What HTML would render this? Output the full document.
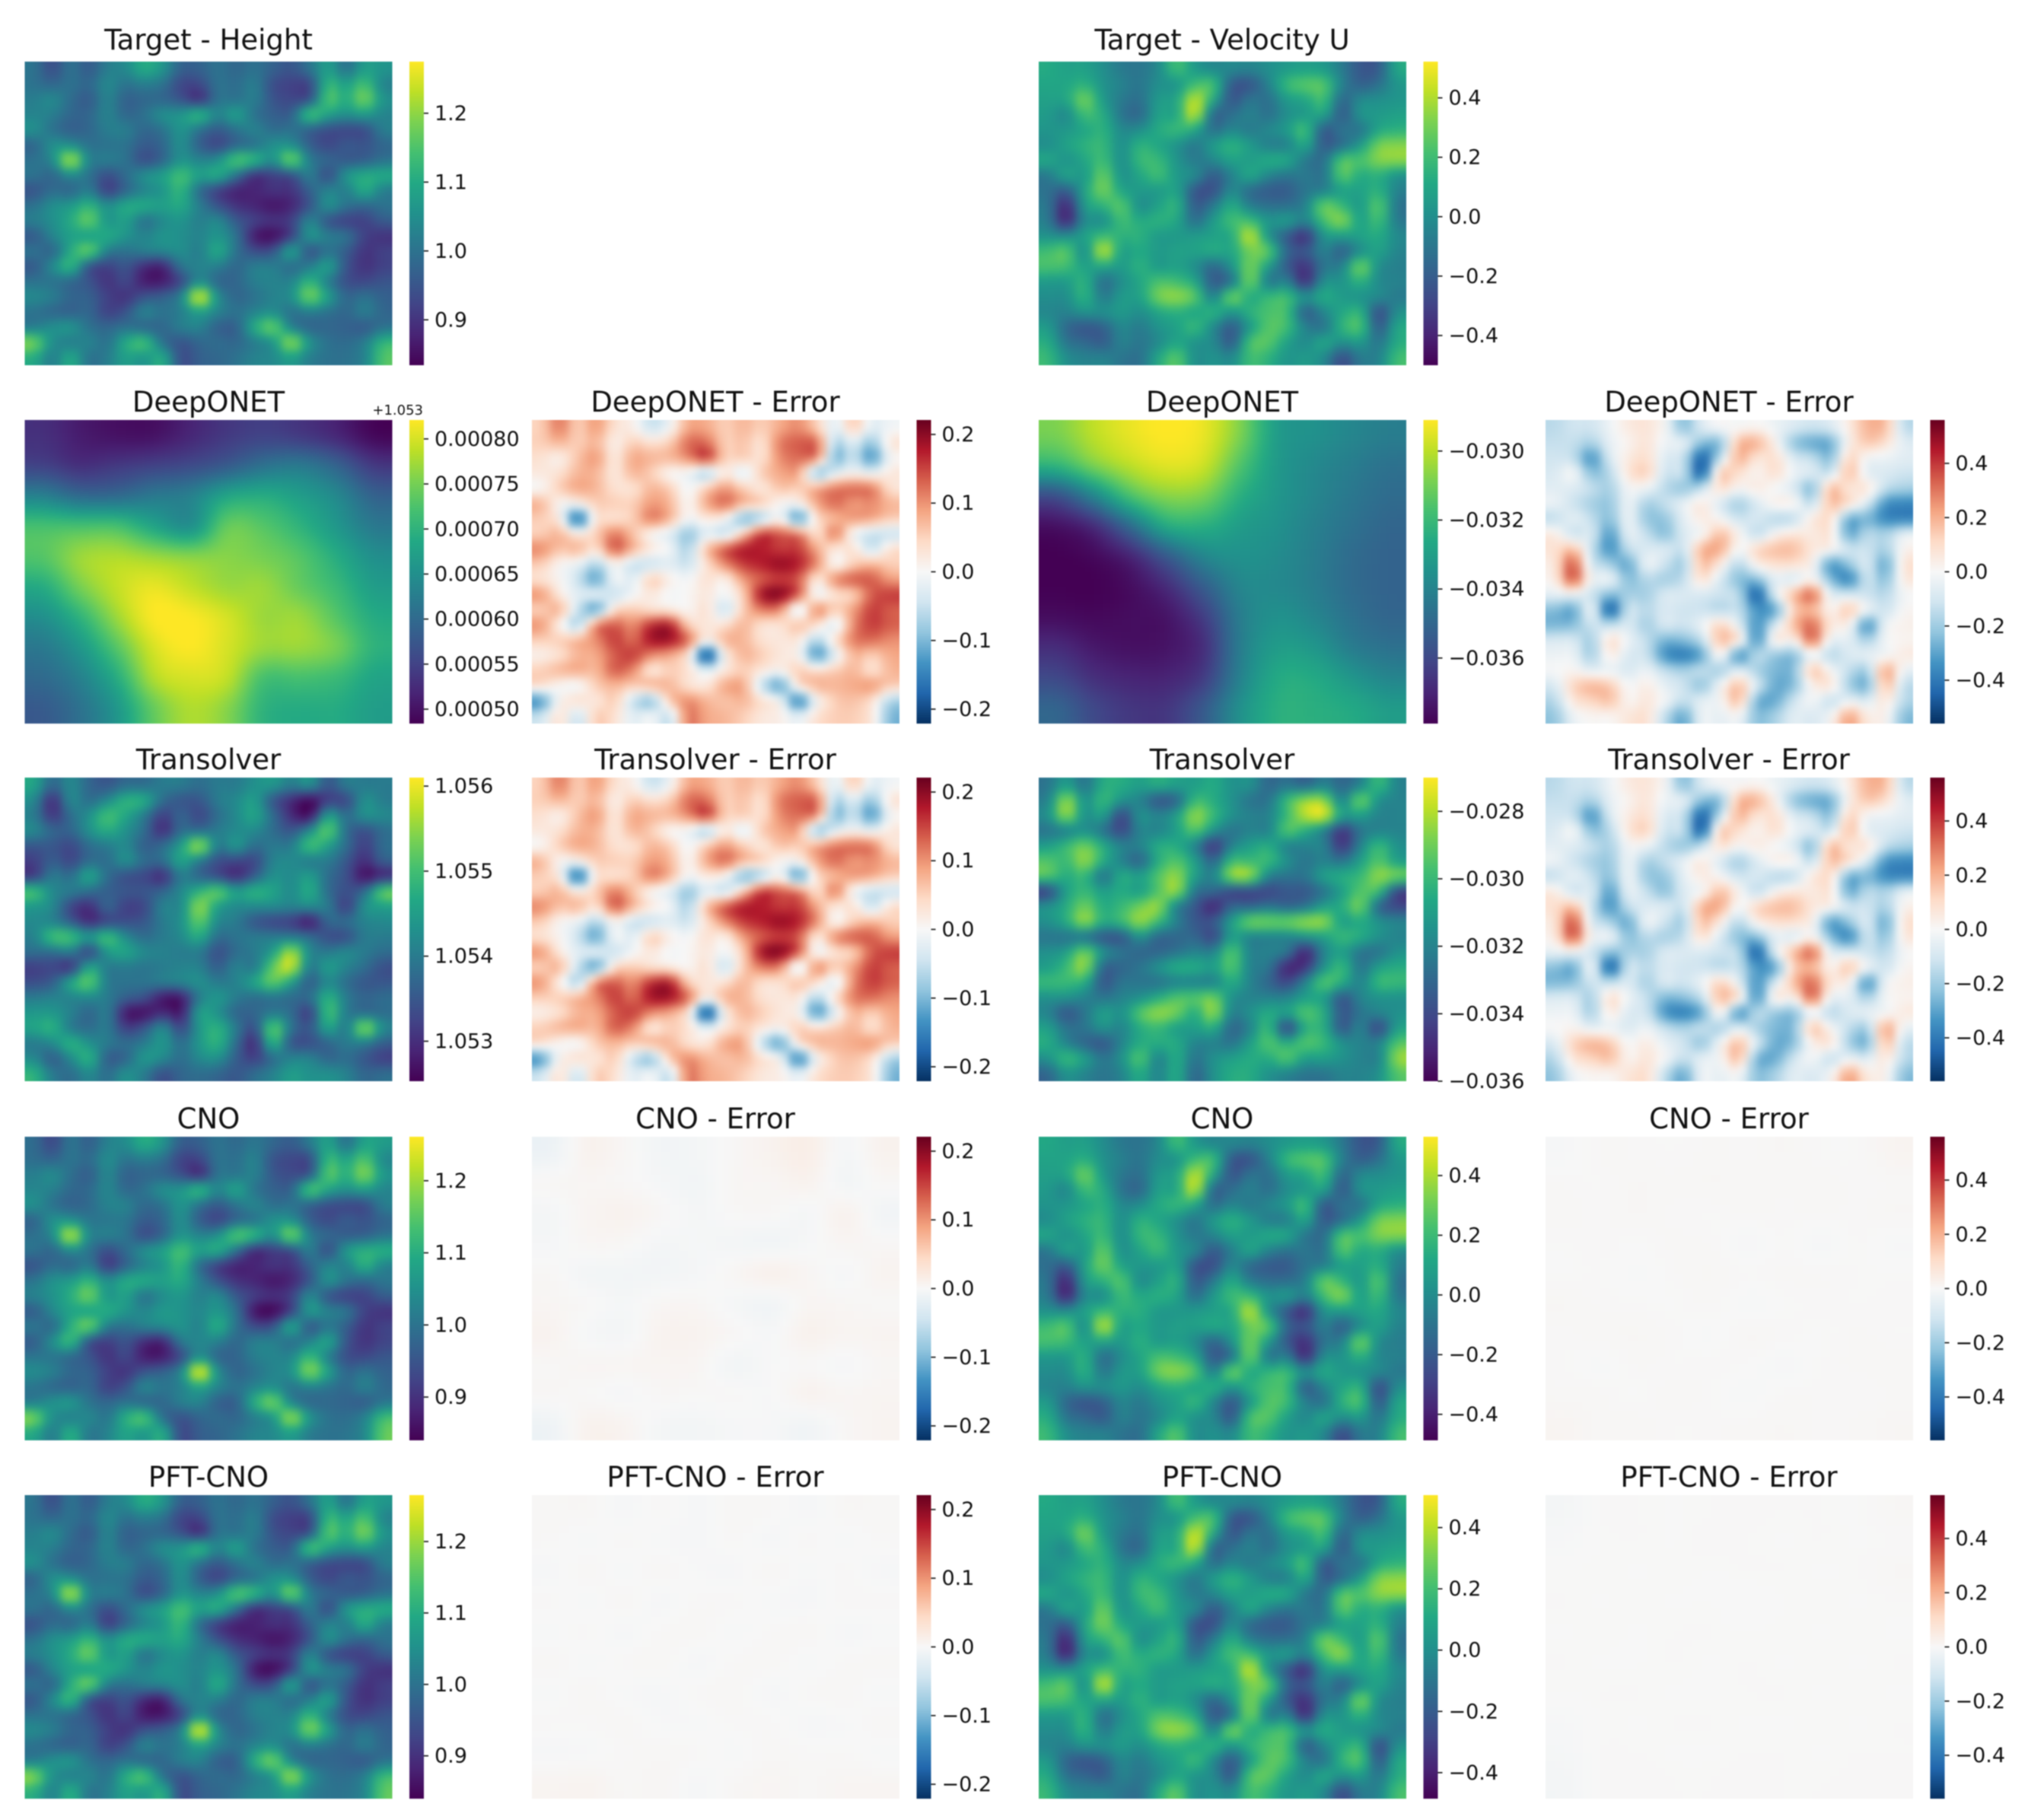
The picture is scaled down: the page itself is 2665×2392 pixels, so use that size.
<!DOCTYPE html>
<html lang="en">
<head>
<meta charset="utf-8">
<title>Shallow water model comparison</title>
<style>
html,body{margin:0;padding:0;background:#fff;}
#figure{display:block;filter:blur(0.7px);}
text{font-family:"DejaVu Sans","Liberation Sans",sans-serif;fill:#111;}
.title{font-size:37px;text-anchor:middle;}
.tick-label{font-size:27px;}
</style>
</head>
<body>
<svg id="figure" xmlns="http://www.w3.org/2000/svg" width="2665" height="2392" viewBox="0 0 2665 2392">
<rect x="0" y="0" width="2665" height="2392" fill="#fff"/>
<defs id="defs">
<filter id="smooth" filterUnits="userSpaceOnUse" x="-200" y="-200" width="3100" height="2800" color-interpolation-filters="sRGB"><feGaussianBlur stdDeviation="5"/></filter>
</defs>
<g id="plots"></g>
<g>
<text class="title" x="274" y="65">Target - Height</text>
<text class="title" x="1606" y="65">Target - Velocity U</text>
<text class="title" x="274" y="541">DeepONET</text>
<text class="title" x="940" y="541">DeepONET - Error</text>
<text class="title" x="1606" y="541">DeepONET</text>
<text class="title" x="2272" y="541">DeepONET - Error</text>
<text class="title" x="274" y="1011">Transolver</text>
<text class="title" x="940" y="1011">Transolver - Error</text>
<text class="title" x="1606" y="1011">Transolver</text>
<text class="title" x="2272" y="1011">Transolver - Error</text>
<text class="title" x="274" y="1483">CNO</text>
<text class="title" x="940" y="1483">CNO - Error</text>
<text class="title" x="1606" y="1483">CNO</text>
<text class="title" x="2272" y="1483">CNO - Error</text>
<text class="title" x="274" y="1954">PFT-CNO</text>
<text class="title" x="940" y="1954">PFT-CNO - Error</text>
<text class="title" x="1606" y="1954">PFT-CNO</text>
<text class="title" x="2272" y="1954">PFT-CNO - Error</text>
<text x="556" y="545" font-size="18" text-anchor="end">+1.053</text>
</g>
</svg>
<script>
const targetHeight=[
[1.0,.94,1.0,.96,1.02,1.04,1.1,1.06,.97,.97,1.0,.98,1.0,.97,.95,1.0,1.08,1.0,1.08,1.06],
[1.0,.98,1.0,.98,1.04,1.0,1.02,1.0,.93,.93,1.0,.99,1.02,.94,.92,.93,1.12,1.08,1.14,1.03],
[1.02,1.04,.99,.96,1.03,.97,.98,.98,.95,.9,1.0,1.0,1.02,.95,.93,.95,1.15,1.1,1.18,1.06],
[1.03,1.02,.98,.98,1.03,.98,1.0,1.05,1.06,1.12,1.03,1.08,1.0,.97,.97,1.14,1.08,1.05,1.07,1.03],
[1.05,1.0,.97,.98,1.02,1.02,.98,1.0,1.06,1.0,.96,1.0,1.03,.99,1.0,.97,.94,.93,.94,1.02],
[.98,1.05,1.05,1.0,1.0,1.0,.96,.98,1.05,.97,.93,.98,1.0,1.05,1.05,.97,.93,.96,.95,.98],
[1.0,1.04,1.22,1.03,1.02,1.0,.94,.98,1.06,1.03,1.05,1.15,1.12,1.05,1.18,1.02,.98,.96,.97,1.0],
[1.0,.98,1.04,1.0,.94,.99,1.05,1.08,1.14,1.08,1.1,1.0,.9,.92,.94,1.02,.94,1.06,1.1,1.1],
[.95,.99,.98,1.02,.92,.98,1.03,1.06,1.12,.99,.92,.88,.88,.9,.9,.97,1.03,1.02,1.1,1.02],
[1.0,1.05,1.07,1.12,1.05,1.1,1.1,1.08,1.1,1.02,.95,.9,.88,.86,.88,.95,1.05,1.0,.98,1.0],
[1.02,1.05,1.1,1.17,1.06,1.08,1.0,1.04,1.06,1.02,1.04,.96,.92,.9,.92,1.03,.95,.92,.92,.96],
[.96,1.03,1.08,1.08,1.1,1.06,1.03,1.06,1.05,1.03,1.06,1.0,.87,.85,.92,1.06,1.02,1.0,.92,.9],
[1.0,.98,1.1,1.17,1.02,1.0,1.02,1.03,1.05,1.02,1.1,1.0,.94,.95,1.08,.95,1.0,.96,.9,.92],
[.96,1.04,1.12,.95,.92,.95,.89,.88,1.0,1.03,1.02,.98,1.02,1.02,.99,1.02,1.08,.95,.9,.92],
[1.0,1.0,.98,.95,.9,.93,.87,.87,.93,1.05,.98,.98,1.02,1.03,1.03,1.12,1.02,.94,.93,.95],
[1.04,1.02,.98,.97,.92,.9,.95,.97,1.03,1.25,1.05,.98,1.0,1.03,1.05,1.18,1.08,.98,1.0,.97],
[1.0,.98,.97,.98,.92,.95,1.03,1.0,1.02,1.08,1.03,1.0,1.03,1.05,1.0,1.02,1.0,.98,1.02,.98],
[1.02,1.05,1.06,1.0,.98,1.0,.98,.98,1.02,1.03,.97,.97,1.1,1.17,1.03,.98,.98,.97,.96,1.0],
[1.18,1.05,1.02,1.03,1.0,1.1,1.14,1.0,.95,.98,.99,.98,1.02,1.06,1.2,1.06,1.0,.99,1.02,1.12],
[1.1,1.02,1.1,1.0,1.02,1.08,1.06,1.1,.94,.97,.98,1.0,1.03,1.04,1.08,1.02,1.0,1.0,1.03,1.15]
];
const targetU=[
[.12,.08,.08,.0,-.08,-.1,-.02,.2,.05,-.02,-.03,-.05,.0,.05,.08,.05,-.08,-.22,-.2,.1],
[.1,.1,.15,.02,-.05,-.1,.0,.03,.2,.2,-.2,-.22,-.05,.18,.25,.24,-.05,-.18,-.12,.03],
[.08,.1,.3,.05,-.08,-.12,.05,.1,.42,.1,-.22,-.1,-.12,.05,.1,.2,-.15,-.02,.0,.03],
[.05,-.02,.2,.12,-.1,-.15,.08,.1,.42,-.15,-.12,-.05,-.12,.0,.05,.08,-.2,.02,.05,.08],
[.03,.04,.1,.15,-.02,.0,.12,.18,.1,-.12,-.03,-.08,-.02,.05,.2,-.2,-.1,-.1,.1,.15],
[.0,.08,.15,.18,.0,.15,.1,.02,-.08,.05,.15,.05,-.06,-.05,.1,-.2,-.12,.05,.3,.33],
[.1,.02,.1,.2,.0,.18,.18,.03,-.08,-.03,.08,.06,.12,.1,-.08,-.12,.24,.22,.33,.34],
[-.08,.08,.05,.28,.02,.1,.2,.05,-.02,-.2,-.05,.1,-.04,-.1,-.08,-.1,.25,.12,.15,.02],
[-.12,-.2,.08,.3,.1,.05,.05,.08,-.22,-.24,-.02,-.14,-.2,-.2,-.1,-.05,.08,.08,.15,-.05],
[-.1,-.38,.05,.15,.25,.0,.08,.15,-.2,-.08,.12,-.06,-.12,-.12,-.05,.28,.18,.05,.25,-.1],
[-.08,-.38,-.02,.0,.2,.12,.15,.1,-.12,.05,.2,.2,.03,.05,-.05,.2,.33,.08,.2,-.08],
[.02,.0,.08,.2,.15,.15,.05,.05,.05,.08,.12,.42,.02,-.2,-.35,.02,.05,.08,.12,-.02],
[.2,.25,.0,.42,.08,.12,.05,.08,.08,.12,.1,.3,.25,-.15,-.22,-.05,-.18,.0,.08,-.04],
[.22,.2,.08,.1,.05,.15,.05,.08,.0,-.15,.02,.3,.05,-.2,-.35,-.1,-.05,.3,.0,-.06],
[.05,.05,.15,-.12,.0,.1,.22,.2,.1,-.2,-.1,.3,-.08,-.05,-.35,.0,.02,.15,-.02,-.05],
[.0,.0,.15,-.08,.05,.08,.3,.35,.25,-.05,.3,.12,.18,.2,.0,.12,.05,.02,-.02,-.08],
[-.03,-.05,.02,.0,.05,.0,.1,.15,.1,.15,.03,.15,.22,.2,-.18,-.03,.1,.15,-.25,.0],
[.05,-.15,-.22,-.18,-.03,-.08,.02,.08,.18,-.02,-.2,.05,.25,.2,-.05,-.1,.15,.22,-.2,.1],
[.12,-.1,-.15,-.2,-.05,-.1,-.02,.1,.02,-.02,-.2,.22,.25,.08,-.02,.1,.0,.05,-.1,.12],
[.18,.0,-.05,-.05,-.1,-.12,.1,.25,.0,.02,-.02,.2,.15,.03,.05,-.02,-.25,-.08,-.05,.2]
];
const transolverHeight=[
[1.0546,1.0537,1.0542,1.0537,1.0535,1.0538,1.0538,1.054,1.054,1.0538,1.054,1.054,1.0543,1.0544,1.054,1.0543,1.0535,1.054,1.054,1.054],
[1.0542,1.053,1.0542,1.0538,1.0542,1.0548,1.0547,1.0538,1.0535,1.0535,1.054,1.0542,1.0545,1.0535,1.053,1.0526,1.0532,1.0533,1.0543,1.054],
[1.054,1.0531,1.0538,1.0543,1.055,1.0546,1.054,1.0532,1.0537,1.0533,1.0538,1.0542,1.0546,1.0538,1.053,1.0527,1.0545,1.0538,1.0543,1.0542],
[1.0542,1.0537,1.0537,1.0543,1.0547,1.0543,1.0538,1.053,1.0538,1.0538,1.054,1.0542,1.0542,1.0538,1.0535,1.0542,1.0552,1.0538,1.0534,1.0538],
[1.0535,1.0535,1.0533,1.0538,1.054,1.0542,1.0536,1.0538,1.0545,1.0556,1.054,1.0544,1.0538,1.054,1.054,1.055,1.0545,1.0538,1.0532,1.0538],
[1.0532,1.0536,1.0533,1.0538,1.0538,1.0543,1.0538,1.0538,1.0546,1.054,1.0534,1.0533,1.0533,1.0541,1.0542,1.054,1.054,1.0535,1.053,1.0536],
[1.0532,1.054,1.0538,1.0546,1.0538,1.0534,1.0533,1.053,1.054,1.0537,1.0534,1.053,1.0536,1.0543,1.0542,1.0545,1.0538,1.0534,1.0527,1.053],
[1.055,1.0542,1.054,1.0538,1.0536,1.0535,1.0535,1.0537,1.0542,1.0548,1.0552,1.0545,1.0548,1.0546,1.0542,1.0547,1.0538,1.0534,1.0538,1.0552],
[1.0544,1.0542,1.0533,1.053,1.0537,1.0532,1.0533,1.0541,1.0542,1.0555,1.0545,1.0542,1.0542,1.0542,1.0541,1.0542,1.054,1.0532,1.0543,1.0545],
[1.0542,1.0541,1.0536,1.053,1.0533,1.0534,1.0535,1.054,1.0543,1.0552,1.0542,1.054,1.0535,1.0533,1.0532,1.0528,1.0537,1.0538,1.0541,1.0542],
[1.0541,1.055,1.055,1.0544,1.055,1.0542,1.0538,1.054,1.0542,1.0547,1.0538,1.0539,1.054,1.054,1.054,1.0538,1.0534,1.0534,1.054,1.054],
[1.0538,1.0538,1.054,1.0533,1.0544,1.0546,1.0542,1.0541,1.054,1.054,1.0534,1.0538,1.054,1.0545,1.0556,1.0542,1.054,1.0542,1.054,1.0538],
[1.0532,1.0533,1.0531,1.0546,1.054,1.054,1.0539,1.054,1.0541,1.0541,1.0536,1.0541,1.054,1.0552,1.0558,1.054,1.0545,1.0541,1.0538,1.0534],
[1.0534,1.0536,1.0546,1.0552,1.054,1.0539,1.0539,1.054,1.0541,1.0543,1.054,1.0541,1.0546,1.0552,1.0545,1.0536,1.0542,1.0538,1.0535,1.0535],
[1.054,1.0541,1.0541,1.0542,1.054,1.0536,1.0534,1.0528,1.0528,1.054,1.0544,1.054,1.0538,1.0539,1.0538,1.0538,1.0548,1.054,1.0537,1.0538],
[1.0544,1.0544,1.0541,1.0537,1.054,1.0528,1.0527,1.053,1.0528,1.0545,1.0543,1.0537,1.0537,1.054,1.0538,1.0532,1.055,1.054,1.0538,1.0538],
[1.0546,1.0548,1.054,1.0538,1.054,1.0532,1.0535,1.0542,1.0533,1.0544,1.0548,1.054,1.0534,1.0552,1.0539,1.0535,1.0546,1.054,1.0555,1.0542],
[1.054,1.0542,1.0548,1.0543,1.054,1.0538,1.054,1.0544,1.0538,1.0544,1.0548,1.0538,1.053,1.0548,1.0535,1.0534,1.0537,1.054,1.054,1.0536],
[1.0542,1.0536,1.0542,1.0548,1.0536,1.0537,1.0544,1.0542,1.0538,1.0542,1.0543,1.0536,1.0532,1.0538,1.0541,1.0541,1.0537,1.0538,1.0535,1.0532],
[1.0548,1.054,1.0538,1.0542,1.0538,1.0543,1.054,1.0534,1.0537,1.0538,1.0537,1.0535,1.0538,1.0541,1.0545,1.0543,1.0543,1.0541,1.0537,1.0538]
];
const transolverU=[
[-.0325,-.031,-.0325,-.0305,-.0305,-.031,-.0305,-.031,-.031,-.0305,-.0315,-.0315,-.033,-.0325,-.033,-.032,-.033,-.032,-.03,-.032],
[-.032,-.0285,-.0315,-.03,-.0315,-.032,-.0335,-.033,-.03,-.0305,-.0315,-.0325,-.0325,-.03,-.0285,-.0285,-.032,-.029,-.0315,-.032],
[-.0315,-.0285,-.0315,-.031,-.034,-.0315,-.032,-.031,-.0285,-.03,-.0315,-.032,-.032,-.03,-.028,-.0275,-.031,-.031,-.032,-.032],
[-.0325,-.032,-.0315,-.0325,-.034,-.032,-.032,-.031,-.0295,-.0315,-.0325,-.032,-.032,-.0295,-.0305,-.032,-.0345,-.0325,-.032,-.032],
[-.031,-.03,-.029,-.0305,-.032,-.032,-.0305,-.0305,-.032,-.0345,-.032,-.031,-.0305,-.032,-.032,-.032,-.0345,-.032,-.03,-.0315],
[-.0295,-.03,-.0285,-.0305,-.032,-.033,-.0305,-.0295,-.031,-.033,-.03,-.03,-.03,-.0315,-.0325,-.032,-.0325,-.031,-.0295,-.031],
[-.0295,-.0305,-.03,-.0325,-.0305,-.031,-.0295,-.0285,-.031,-.032,-.0285,-.0285,-.032,-.0325,-.0325,-.031,-.0305,-.03,-.0285,-.029],
[-.034,-.031,-.03,-.031,-.0305,-.031,-.0295,-.0285,-.0325,-.033,-.034,-.034,-.034,-.0335,-.0335,-.0325,-.031,-.0295,-.03,-.034],
[-.0315,-.0305,-.029,-.0305,-.03,-.029,-.0285,-.032,-.0335,-.035,-.033,-.033,-.0325,-.033,-.0325,-.031,-.0305,-.029,-.033,-.034],
[-.0315,-.0305,-.0285,-.0305,-.03,-.0285,-.03,-.032,-.0335,-.0335,-.031,-.029,-.029,-.029,-.0285,-.0285,-.031,-.0305,-.0315,-.032],
[-.0325,-.0325,-.0325,-.0335,-.0335,-.0315,-.033,-.033,-.033,-.034,-.031,-.032,-.032,-.032,-.0315,-.031,-.03,-.0305,-.0315,-.032],
[-.0315,-.031,-.029,-.0315,-.0325,-.033,-.033,-.0325,-.032,-.032,-.0295,-.032,-.032,-.0325,-.035,-.032,-.031,-.0325,-.0325,-.0315],
[-.031,-.03,-.0285,-.033,-.033,-.0325,-.0315,-.0305,-.0305,-.031,-.0295,-.032,-.0325,-.035,-.0345,-.0315,-.03,-.0325,-.031,-.0305],
[-.03,-.03,-.0305,-.0335,-.0325,-.0325,-.0325,-.032,-.032,-.032,-.0305,-.032,-.033,-.034,-.032,-.0295,-.0305,-.032,-.03,-.03],
[-.0315,-.0315,-.032,-.0325,-.032,-.0315,-.0305,-.0295,-.0295,-.029,-.0315,-.032,-.032,-.032,-.031,-.031,-.0335,-.032,-.0315,-.0315],
[-.032,-.0335,-.0325,-.031,-.0315,-.0295,-.0285,-.029,-.0305,-.0285,-.032,-.0315,-.0305,-.031,-.0295,-.0305,-.0335,-.0325,-.032,-.0315],
[-.031,-.0325,-.0325,-.0315,-.032,-.0305,-.03,-.031,-.031,-.0305,-.033,-.032,-.03,-.034,-.0305,-.0305,-.0335,-.032,-.034,-.031],
[-.0305,-.032,-.033,-.0335,-.032,-.0305,-.0305,-.0305,-.032,-.032,-.0325,-.031,-.0295,-.0305,-.0295,-.03,-.0315,-.032,-.032,-.0295],
[-.0315,-.03,-.031,-.0325,-.0315,-.0295,-.032,-.0305,-.0325,-.0315,-.031,-.0305,-.0305,-.0295,-.031,-.031,-.0315,-.032,-.032,-.0285],
[-.033,-.0315,-.032,-.0325,-.032,-.0305,-.032,-.0305,-.033,-.0315,-.0305,-.0305,-.0315,-.032,-.0325,-.0325,-.032,-.032,-.0315,-.0295]
];
const deeponetHeightOffset=1.053;
const deeponetHeight=[
[.00053,.00051,.00050,.00050,.00052,.00054,.00055,.00054,.00052,.00049],
[.00055,.00053,.00054,.00055,.00056,.00058,.00061,.00062,.00059,.00054],
[.00063,.00060,.00060,.00062,.00063,.00068,.00069,.00067,.00064,.00059],
[.00072,.00072,.00072,.00068,.00065,.00074,.00073,.00070,.00066,.00062],
[.00073,.00077,.00078,.00077,.00076,.00076,.00075,.00073,.00069,.00065],
[.00069,.00075,.00079,.00081,.00079,.00077,.00077,.00074,.00071,.00067],
[.00065,.00070,.00077,.00082,.00082,.00080,.00077,.00077,.00073,.00069],
[.00062,.00066,.00073,.00080,.00082,.00080,.00077,.00077,.00075,.00070],
[.00060,.00063,.00069,.00078,.00080,.00079,.00072,.00072,.00071,.00068],
[.00058,.00061,.00066,.00074,.00078,.00076,.00070,.00069,.00069,.00067]
];
const deeponetU=[
[-.0309,-.0300,-.0294,-.0291,-.0294,-.0309,-.0331,-.0335,-.0339,-.0342],
[-.0322,-.0309,-.0300,-.0295,-.0298,-.0316,-.0332,-.0338,-.0342,-.0346],
[-.0357,-.0339,-.0317,-.0307,-.0309,-.0324,-.0333,-.0339,-.0344,-.0348],
[-.0375,-.0368,-.0348,-.0326,-.0324,-.0331,-.0335,-.0341,-.0346,-.0350],
[-.0379,-.0377,-.0370,-.0354,-.0339,-.0335,-.0337,-.0342,-.0348,-.0351],
[-.0379,-.0379,-.0376,-.0368,-.0353,-.0339,-.0338,-.0342,-.0348,-.0351],
[-.0376,-.0377,-.0376,-.0374,-.0363,-.0342,-.0335,-.0339,-.0346,-.0350],
[-.0368,-.0373,-.0375,-.0374,-.0367,-.0342,-.0331,-.0333,-.0342,-.0346],
[-.0360,-.0367,-.0370,-.0370,-.0363,-.0340,-.0326,-.0326,-.0333,-.0339],
[-.0351,-.0360,-.0365,-.0365,-.0354,-.0335,-.0324,-.0324,-.0326,-.0331]
];
const cnoHeightError=[
[-.012,.008,.003,-.006,-.004,.002,.008,.014,-.003,.008],
[.002,.004,.002,-.003,-.006,.003,.004,.008,-.005,.002],
[-.004,.005,.008,.002,-.004,.001,.002,-.003,.008,-.006],
[-.003,.003,.002,-.004,-.003,-.005,-.007,-.002,.004,.002],
[.002,-.005,-.006,-.006,-.003,.003,.01,.004,-.002,.006],
[.004,.001,-.003,.003,.003,-.003,-.007,.004,.003,.002],
[.007,-.002,-.004,.007,.007,.002,-.002,.009,.005,.006],
[.002,.004,.004,.005,.004,-.006,-.001,.001,-.002,.003],
[.002,.001,-.002,.002,.001,.001,-.001,.007,.004,.005],
[-.01,.008,.006,-.004,-.005,-.002,-.002,-.007,.002,.006]
];
const cnoUError=[
[-.004,.004,.003,.002,.004,.003,.006,.002,.002,.014],
[.003,.002,.006,.004,.006,.005,.004,.005,.003,.004],
[.005,.003,.006,.003,.002,.004,.003,.004,.003,.006],
[.002,.003,.001,.004,.003,-.004,.002,-.005,.002,-.003],
[.001,.002,-.002,.003,.006,.002,.004,.003,.002,.001],
[.006,.003,.002,.001,.004,-.003,.001,.003,.002,.003],
[.003,.005,.006,.003,-.002,.006,.003,.001,.004,.002],
[.002,-.002,.004,.002,.003,.001,-.004,.002,.004,.005],
[.005,.004,.001,.005,.002,-.003,.003,.003,.002,.004],
[.012,.004,.005,.002,.003,.004,.006,.003,.004,.008]
];
const pftHeightError=[
[.002,.002,-.002,.001,-.002,.002,.001,-.002,.002,.002],
[.001,-.001,.001,-.001,-.002,.001,-.002,.001,-.001,.001],
[-.002,.002,-.001,.002,-.001,-.002,.002,-.001,.001,-.002],
[.001,-.001,.002,-.002,.001,.001,-.001,-.002,.001,.001],
[-.001,.001,-.002,.001,.002,-.001,.001,.002,-.002,-.001],
[.002,-.001,.001,.002,-.002,.001,.002,-.001,.001,.002],
[-.001,.002,-.001,-.002,.001,.002,-.002,.001,.002,-.001],
[.001,.001,.002,-.001,-.001,.001,.001,-.002,-.001,.002],
[-.002,-.001,.001,.002,.001,-.001,.002,.001,.001,-.001],
[.005,.006,.002,.003,-.002,.002,.004,.002,.004,.004]
];
const pftUError=[
[-.01,.002,.002,.001,.002,.003,.002,.002,.001,.006],
[-.004,.001,.002,.001,.003,.002,.001,.002,.001,.002],
[.001,.002,.001,.002,.001,.002,.002,.001,.002,.006],
[.002,.001,.002,.001,.001,-.001,.001,.002,.001,.002],
[.001,.002,.001,.002,.002,.001,.002,.001,.002,.001],
[.002,.001,.001,.002,.001,.002,.001,.002,.001,.002],
[.001,.002,.002,.001,.001,.002,.002,.001,.002,.001],
[-.004,.001,.001,.002,.002,.001,.001,.002,.001,.002],
[-.008,.002,.002,.001,.001,.002,.002,.001,.002,.002],
[-.012,.002,.003,.002,.002,.003,.002,.002,.003,.003]
];

const heightTicks=[.9,1.0,1.1,1.2];
const heightTickLabels=["0.9","1.0","1.1","1.2"];
const velocityTicks=[-.4,-.2,0,.2,.4];
const velocityTickLabels=["\u22120.4","\u22120.2","0.0","0.2","0.4"];
const heightErrorTicks=[-.2,-.1,0,.1,.2];
const heightErrorTickLabels=["\u22120.2","\u22120.1","0.0","0.1","0.2"];
const deeponetHeightTicks=[.0005,.00055,.0006,.00065,.0007,.00075,.0008];
const deeponetHeightTickLabels=["0.00050","0.00055","0.00060","0.00065","0.00070","0.00075","0.00080"];
const deeponetUTicks=[-.036,-.034,-.032,-.030];
const deeponetUTickLabels=["\u22120.036","\u22120.034","\u22120.032","\u22120.030"];
const transolverHeightTicks=[1.053,1.054,1.055,1.056];
const transolverHeightTickLabels=["1.053","1.054","1.055","1.056"];
const transolverUTicks=[-.036,-.034,-.032,-.030,-.028];
const transolverUTickLabels=["\u22120.036","\u22120.034","\u22120.032","\u22120.030","\u22120.028"];

const viridisStops=["#440154","#482475","#414487","#355f8d","#2a788e","#21918c","#22a884","#44bf70","#7ad151","#bddf26","#fde725"];
const rdbuStops=["#053061","#2166ac","#4393c3","#92c5de","#d1e5f0","#f7f7f7","#fddbc7","#f4a582","#d6604d","#b2182b","#67001f"];

const NS="http://www.w3.org/2000/svg";
const colLeft=[32.5,699,1365,2031];
const colWidth=483;
const rowTop=[81,552,1022,1494,1965];
const rowHeight=399;
const barGap=22.5;
const barWidth=19;
const displayCells=40;

function hex(c){return [parseInt(c.slice(1,3),16),parseInt(c.slice(3,5),16),parseInt(c.slice(5,7),16)];}
function colorScale(stops,t){
  t=Math.max(0,Math.min(1,t));
  const p=t*(stops.length-1),i=Math.min(stops.length-2,Math.floor(p)),f=p-i;
  const a=hex(stops[i]),b=hex(stops[i+1]);
  return "rgb("+Math.round(a[0]+(b[0]-a[0])*f)+","+Math.round(a[1]+(b[1]-a[1])*f)+","+Math.round(a[2]+(b[2]-a[2])*f)+")";
}
function sampleGrid(grid,u,v){
  const m=grid.length,n=grid[0].length;
  const px=Math.max(0,Math.min(n-1,u*n-.5)),py=Math.max(0,Math.min(m-1,v*m-.5));
  const i=Math.min(n-2,Math.floor(px)),j=Math.min(m-2,Math.floor(py)),fx=px-i,fy=py-j;
  return (grid[j][i]*(1-fx)+grid[j][i+1]*fx)*(1-fy)+(grid[j+1][i]*(1-fx)+grid[j+1][i+1]*fx)*fy;
}
function catmull(a,b,c,d,t){
  return .5*(2*b+(c-a)*t+(2*a-5*b+4*c-d)*t*t+(3*b-a-3*c+d)*t*t*t);
}
function resample(grid,size){
  const m=grid.length,n=grid[0].length;
  const at=function(j,i){return grid[Math.max(0,Math.min(m-1,j))][Math.max(0,Math.min(n-1,i))];};
  const out=[];
  for(let y=0;y<size;y++){
    const py=(y+.5)/size*m-.5,j=Math.floor(py),fy=py-j;
    const line=[];
    for(let x=0;x<size;x++){
      const px=(x+.5)/size*n-.5,i=Math.floor(px),fx=px-i;
      const r=[-1,0,1,2].map(function(d){return catmull(at(j+d,i-1),at(j+d,i),at(j+d,i+1),at(j+d,i+2),fx);});
      line.push(catmull(r[0],r[1],r[2],r[3],fy));
    }
    out.push(line);
  }
  return out;
}
function predictionError(pred,offset,target){
  return target.map(function(row,j){return row.map(function(val,i){
    return sampleGrid(pred,(i+.5)/row.length,(j+.5)/target.length)+offset-val;
  });});
}
function addError(target,err){
  return target.map(function(row,j){return row.map(function(val,i){
    return val+sampleGrid(err,(i+.5)/row.length,(j+.5)/target.length);
  });});
}

const plotRoot=document.getElementById("plots");
const defs=document.getElementById("defs");

function drawHeatmap(slug,col,row,sourceMatrix,vmin,vmax,stops){
  const matrix=resample(sourceMatrix,displayCells);
  const x0=colLeft[col],y0=rowTop[row];
  const m=matrix.length,n=matrix[0].length;
  const xAxis=function(i){return x0+i/n*colWidth;};
  const yAxis=function(j){return y0+j/m*rowHeight;};
  const clip=document.createElementNS(NS,"clipPath");
  clip.setAttribute("id","clip-"+slug);
  const clipRect=document.createElementNS(NS,"rect");
  clipRect.setAttribute("x",x0);
  clipRect.setAttribute("y",y0);
  clipRect.setAttribute("width",colWidth);
  clipRect.setAttribute("height",rowHeight);
  clip.appendChild(clipRect);
  defs.appendChild(clip);
  const outer=document.createElementNS(NS,"g");
  
  
  outer.setAttribute("clip-path","url(#clip-"+slug+")");
  const inner=document.createElementNS(NS,"g");
  inner.setAttribute("filter","url(#smooth)");
  const pad=30;
  for(let j=0;j<m;j++){
    for(let i=0;i<n;i++){
      const cell=document.createElementNS(NS,"rect");
      
      
      const left=i===0?xAxis(i)-pad:xAxis(i);
      const right=i===n-1?xAxis(i+1)+pad:xAxis(i+1)+1;
      const top=j===0?yAxis(j)-pad:yAxis(j);
      const bottom=j===m-1?yAxis(j+1)+pad:yAxis(j+1)+1;
      cell.setAttribute("x",left.toFixed(2));
      cell.setAttribute("y",top.toFixed(2));
      cell.setAttribute("width",(right-left).toFixed(2));
      cell.setAttribute("height",(bottom-top).toFixed(2));
      cell.setAttribute("fill",colorScale(stops,(matrix[j][i]-vmin)/(vmax-vmin)));
      inner.appendChild(cell);
    }
  }
  outer.appendChild(inner);
  plotRoot.appendChild(outer);
}
function drawColorbar(slug,col,row,vmin,vmax,stops,ticks,labels){
  const x=colLeft[col]+colWidth+barGap,y0=rowTop[row];
  const grad=document.createElementNS(NS,"linearGradient");
  grad.setAttribute("id","grad-"+slug);
  grad.setAttribute("x1","0");
  grad.setAttribute("y1","1");
  grad.setAttribute("x2","0");
  grad.setAttribute("y2","0");
  stops.forEach(function(c,i){
    const s=document.createElementNS(NS,"stop");
    s.setAttribute("offset",i/(stops.length-1));
    s.setAttribute("stop-color",c);
    grad.appendChild(s);
  });
  defs.appendChild(grad);
  const g=document.createElementNS(NS,"g");
  
  
  const bar=document.createElementNS(NS,"rect");
  
  
  bar.setAttribute("x",x);
  bar.setAttribute("y",y0);
  bar.setAttribute("width",barWidth);
  bar.setAttribute("height",rowHeight);
  bar.setAttribute("fill","url(#grad-"+slug+")");
  g.appendChild(bar);
  const yAxis=function(v){return y0+rowHeight-(v-vmin)/(vmax-vmin)*rowHeight;};
  ticks.forEach(function(t,k){
    const y=yAxis(t);
    const line=document.createElementNS(NS,"line");
    
    
    line.setAttribute("x1",x+barWidth);
    line.setAttribute("x2",x+barWidth+6);
    line.setAttribute("y1",y);
    line.setAttribute("y2",y);
    line.setAttribute("stroke","#111");
    line.setAttribute("stroke-width","1.6");
    g.appendChild(line);
    const label=document.createElementNS(NS,"text");
    
    
    label.setAttribute("class","tick-label");
    label.setAttribute("x",x+barWidth+14);
    label.setAttribute("y",y+9);
    label.textContent=labels[k];
    g.appendChild(label);
  });
  plotRoot.appendChild(g);
}
function panel(slug,col,row,matrix,vmin,vmax,stops,ticks,labels){
  drawHeatmap(slug,col,row,matrix,vmin,vmax,stops);
  drawColorbar(slug,col,row,vmin,vmax,stops,ticks,labels);
}

const eH=.221,eU=.56;
panel("target-height",0,0,targetHeight,.834,1.275,viridisStops,heightTicks,heightTickLabels);
panel("target-u",2,0,targetU,-.5,.522,viridisStops,velocityTicks,velocityTickLabels);

panel("deeponet-height",0,1,deeponetHeight,.000484,.000821,viridisStops,deeponetHeightTicks,deeponetHeightTickLabels);
panel("deeponet-height-error",1,1,predictionError(deeponetHeight,deeponetHeightOffset,targetHeight),-eH,eH,rdbuStops,heightErrorTicks,heightErrorTickLabels);
panel("deeponet-u",2,1,deeponetU,-.0379,-.0291,viridisStops,deeponetUTicks,deeponetUTickLabels);
panel("deeponet-u-error",3,1,predictionError(deeponetU,0,targetU),-eU,eU,rdbuStops,velocityTicks,velocityTickLabels);

panel("transolver-height",0,2,transolverHeight,1.05253,1.0561,viridisStops,transolverHeightTicks,transolverHeightTickLabels);
panel("transolver-height-error",1,2,predictionError(transolverHeight,0,targetHeight),-eH,eH,rdbuStops,heightErrorTicks,heightErrorTickLabels);
panel("transolver-u",2,2,transolverU,-.036,-.027,viridisStops,transolverUTicks,transolverUTickLabels);
panel("transolver-u-error",3,2,predictionError(transolverU,0,targetU),-eU,eU,rdbuStops,velocityTicks,velocityTickLabels);

panel("cno-height",0,3,addError(targetHeight,cnoHeightError),.84,1.261,viridisStops,heightTicks,heightTickLabels);
panel("cno-height-error",1,3,cnoHeightError,-eH,eH,rdbuStops,heightErrorTicks,heightErrorTickLabels);
panel("cno-u",2,3,addError(targetU,cnoUError),-.487,.53,viridisStops,velocityTicks,velocityTickLabels);
panel("cno-u-error",3,3,cnoUError,-eU,eU,rdbuStops,velocityTicks,velocityTickLabels);

panel("pft-cno-height",0,4,addError(targetHeight,pftHeightError),.84,1.265,viridisStops,heightTicks,heightTickLabels);
panel("pft-cno-height-error",1,4,pftHeightError,-eH,eH,rdbuStops,heightErrorTicks,heightErrorTickLabels);
panel("pft-cno-u",2,4,addError(targetU,pftUError),-.485,.506,viridisStops,velocityTicks,velocityTickLabels);
panel("pft-cno-u-error",3,4,pftUError,-eU,eU,rdbuStops,velocityTicks,velocityTickLabels);
</script>
</body>
</html>
